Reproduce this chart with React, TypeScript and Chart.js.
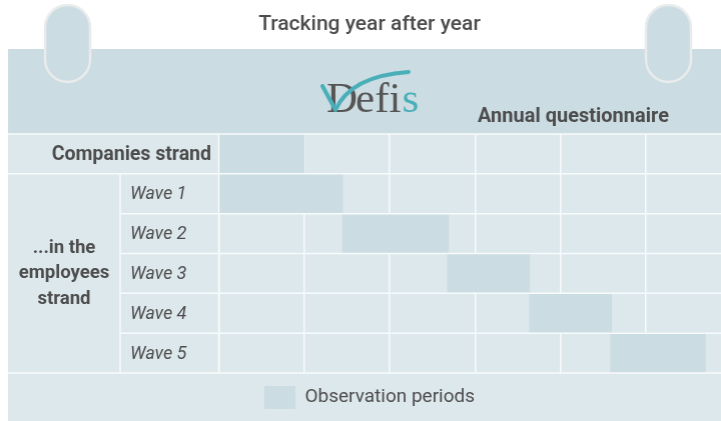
import React, { useEffect, useRef } from "react";
import { Chart, registerables } from "chart.js";

Chart.register(...registerables);

// ---- data ----
const chartTitle = "Tracking year after year";
const headerLabel = "Annual questionnaire";
const logoParts = ["D", "efi", "s"];
const categories = ["Companies strand", "Wave 1", "Wave 2", "Wave 3", "Wave 4", "Wave 5"];
const groupLabel = ["...in the", "employees", "strand"];
// observation periods, in years from the start of the first column
const periodStart = [0, 0, 1.45, 2.68, 3.64, 4.59];
const periodEnd = [1, 1.45, 2.69, 3.64, 4.6, 5.7];
const seriesName = "Observation periods";
const yearColumns = 6;

// ---- styles ----
const FONT = "Roboto, 'Noto Sans', sans-serif";
const BAND = "#cbdce2";
const CELL = "#dde8ec";
const LINE = "#f8fbfb";
const TEXT = "#4d4d4d";
const TEAL = "#4aafb9";
const RING_EDGE = "#e9ebec";
const W = 740;
const H = 421;
const PANEL_LEFT = 8;

function roundRect(ctx: CanvasRenderingContext2D, x: number, y: number, w: number, h: number, r: number) {
  ctx.beginPath();
  ctx.moveTo(x + r, y);
  ctx.lineTo(x + w - r, y);
  ctx.arc(x + w - r, y + r, r, -Math.PI / 2, 0);
  ctx.lineTo(x + w, y + h - r);
  ctx.arc(x + w - r, y + h - r, r, 0, Math.PI / 2);
  ctx.lineTo(x + r, y + h);
  ctx.arc(x + r, y + h - r, r, Math.PI / 2, Math.PI);
  ctx.lineTo(x, y + r);
  ctx.arc(x + r, y + r, r, Math.PI, Math.PI * 1.5);
  ctx.closePath();
}

const calendarPlugin = {
  id: "calendarDecor",
  beforeDraw(chart: any) {
    const ctx: CanvasRenderingContext2D = chart.ctx;
    const area = chart.chartArea;
    ctx.save();
    ctx.fillStyle = "#ffffff";
    ctx.fillRect(0, 0, chart.width, chart.height);
    // header band
    ctx.fillStyle = BAND;
    ctx.fillRect(PANEL_LEFT, 49, chart.width - PANEL_LEFT, area.top - 49);
    // table + legend background
    ctx.fillStyle = CELL;
    ctx.fillRect(PANEL_LEFT, area.top, chart.width - PANEL_LEFT, chart.height - area.top);
    // rings
    for (const rx of [45, 645]) {
      roundRect(ctx, rx, 5, 45, 77, 22.5);
      ctx.fillStyle = BAND;
      ctx.fill();
      ctx.lineWidth = 2.5;
      ctx.strokeStyle = RING_EDGE;
      ctx.stroke();
    }
    // logo
    ctx.textBaseline = "alphabetic";
    ctx.textAlign = "left";
    ctx.font = "43px 'Liberation Serif', serif";
    let lx = 326;
    const ly = 112;
    ctx.fillStyle = "#555555";
    ctx.fillText(logoParts[0], lx, ly);
    lx += ctx.measureText(logoParts[0]).width - 2;
    ctx.fillText(logoParts[1], lx, ly);
    lx += ctx.measureText(logoParts[1]).width + 1;
    ctx.fillStyle = TEAL;
    ctx.fillText(logoParts[2], lx, ly);
    ctx.beginPath();
    ctx.moveTo(322, 86);
    ctx.lineTo(335, 110);
    ctx.quadraticCurveTo(350, 76, 408, 72);
    ctx.strokeStyle = TEAL;
    ctx.lineWidth = 4;
    ctx.lineCap = "round";
    ctx.lineJoin = "round";
    ctx.stroke();
    // header label
    ctx.fillStyle = TEXT;
    ctx.font = `bold 20px ${FONT}`;
    ctx.fillText(headerLabel, 477, 122);
    ctx.restore();
  },
  afterDatasetsDraw(chart: any) {
    const ctx: CanvasRenderingContext2D = chart.ctx;
    const ys = chart.scales.y;
    const xs = chart.scales.x;
    const centers = categories.map((_, i) => ys.getPixelForValue(i));
    const top = ys.top;
    const bottom = ys.bottom;
    const right = chart.width;
    const innerLeft = 120;
    ctx.save();
    ctx.strokeStyle = LINE;
    ctx.lineWidth = 1.5;
    const h = (x0: number, x1: number, y: number) => {
      ctx.beginPath();
      ctx.moveTo(x0, y);
      ctx.lineTo(x1, y);
      ctx.stroke();
    };
    const v = (x: number, y0: number, y1: number) => {
      ctx.beginPath();
      ctx.moveTo(x, y0);
      ctx.lineTo(x, y1);
      ctx.stroke();
    };
    h(PANEL_LEFT, right, top);
    h(PANEL_LEFT, right, bottom);
    for (let i = 1; i < centers.length; i++) {
      const y = (centers[i - 1] + centers[i]) / 2;
      h(i === 1 ? PANEL_LEFT : innerLeft, right, y);
    }
    const groupTop = (centers[0] + centers[1]) / 2;
    v(innerLeft, groupTop, bottom);
    v(xs.getPixelForValue(0), top, bottom);

    // row labels
    ctx.fillStyle = TEXT;
    ctx.textBaseline = "middle";
    ctx.textAlign = "right";
    ctx.font = `bold 19.5px ${FONT}`;
    ctx.fillText(categories[0], xs.left - 7.5, centers[0] + 1);
    ctx.textAlign = "left";
    ctx.font = `italic 18px ${FONT}`;
    for (let i = 1; i < categories.length; i++) {
      ctx.fillText(categories[i], innerLeft + 10, centers[i] + 1);
    }
    ctx.textAlign = "center";
    ctx.font = `bold 18.5px ${FONT}`;
    const mid = (groupTop + bottom) / 2;
    const lh = 25.5;
    groupLabel.forEach((t, k) => {
      ctx.fillText(t, (PANEL_LEFT + innerLeft) / 2, mid + (k - (groupLabel.length - 1) / 2) * lh);
    });
    ctx.restore();
  },
};

export default function App() {
  const ref = useRef<HTMLCanvasElement | null>(null);
  useEffect(() => {
    if (!ref.current) return;
    const chart = new Chart(ref.current, {
      type: "bar",
      data: {
        labels: categories,
        datasets: [
          {
            label: seriesName,
            data: periodStart.map((s, i) => [s, periodEnd[i]]) as any,
            backgroundColor: BAND,
            borderWidth: 0,
            borderSkipped: false,
            barPercentage: 1,
            categoryPercentage: 1,
          },
        ],
      },
      options: {
        indexAxis: "y",
        responsive: false,
        animation: false,
        devicePixelRatio: 1,
        layout: { padding: { left: PANEL_LEFT, right: 4, top: 0, bottom: 2 } },
        scales: {
          x: {
            type: "linear",
            min: 0,
            max: yearColumns,
            ticks: { display: false, stepSize: 1 },
            grid: { color: LINE, lineWidth: 1.5, drawTicks: false },
            border: { display: false },
            afterFit: (s: any) => {
              s.height = 0;
            },
          },
          y: {
            type: "category",
            ticks: { display: false },
            grid: { display: false, drawTicks: false },
            border: { display: false },
            afterFit: (s: any) => {
              s.width = 210.5;
            },
          },
        },
        plugins: {
          title: {
            display: true,
            text: chartTitle,
            color: TEXT,
            font: { family: FONT, size: 21, weight: "500" },
            padding: { top: 12, bottom: 96.8 },
          },
          legend: {
            display: true,
            position: "bottom",
            labels: {
              boxWidth: 31,
              boxHeight: 23,
              padding: 13,
              color: TEXT,
              font: { family: FONT, size: 19 },
            },
          },
          tooltip: { enabled: false },
        },
      },
      plugins: [calendarPlugin],
    });
    return () => chart.destroy();
  }, []);
  return (
    <div
      style={{
        position: "fixed",
        left: 0,
        top: 0,
        width: 721,
        height: 421,
        overflow: "hidden",
        background: "#fff",
      }}
    >
      <canvas ref={ref} width={W - 5.5} height={H} style={{ display: "block", width: W - 5.5, height: H }} />
    </div>
  );
}
